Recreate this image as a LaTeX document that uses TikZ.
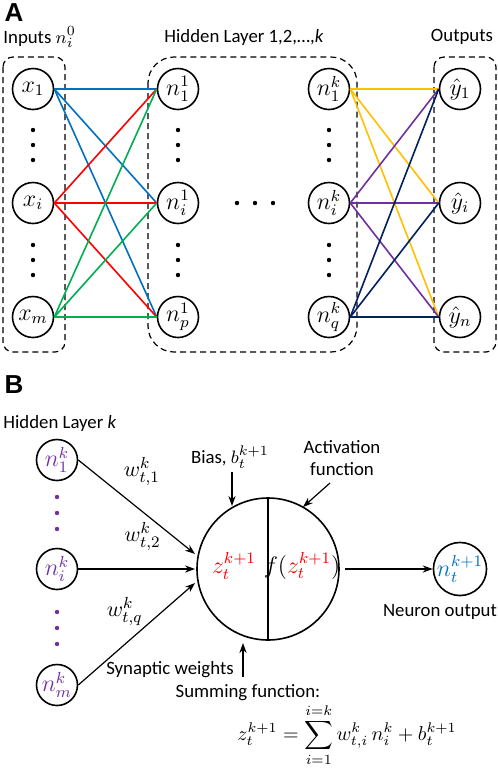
\documentclass[tikz,border=0pt]{standalone}
\usepackage{amsmath}
\usepackage{fontspec}
\setmainfont{Carlito}
\newfontfamily\panelfont{Liberation Sans}
\usepackage{tikz}
\usetikzlibrary{positioning, arrows.meta}

\definecolor{inblue}{HTML}{0070C0}
\definecolor{inred}{HTML}{FF0000}
\definecolor{ingreen}{HTML}{00B050}
\definecolor{outgold}{HTML}{FFC000}
\definecolor{outpurple}{HTML}{7030A0}
\definecolor{outnavy}{HTML}{002060}

\tikzset{
    >={Stealth[length=5pt,width=3.6pt]},       % arrow heads of panel B
    neuron/.style={circle, draw, line width=0.8pt, minimum size=20.5pt,
                   inner sep=0pt, font=\fontsize{12}{13}\selectfont},
    layerbox/.style={draw, line width=0.6pt, dash pattern=on 3pt off 2pt},
    link/.style={line width=0.8pt},          % the coloured lines of panel A
    arrowlink/.style={->, draw, line width=0.6pt},
    dot/.style={circle, fill, inner sep=0pt, minimum size=2.2pt},
    lbl/.style={font=\fontsize{9.4}{11.2}\selectfont, inner sep=1pt},
    wlbl/.style={font=\fontsize{11}{12}\selectfont, inner sep=1pt},
    panel/.style={font=\fontsize{13}{14}\panelfont\bfseries\selectfont, inner sep=0pt},
}

\begin{document}
\begin{tikzpicture}[x=0.5pt, y=-0.5pt]
\useasboundingbox (0,0) rectangle (498,768);

% ---------------- panel A ----------------
\node[panel] (pA) at (14,13) {A};

\node[lbl, anchor=west] (tin) at (1,37) {Inputs $n_i^0$};
\node[lbl] (thid) at (244,37) {Hidden Layer 1,2,…,\textit{k}};
\node[lbl] (tout) at (462,37) {Outputs};

% dashed boxes
\draw[layerbox, rounded corners=5pt] (3,57) rectangle (65,352);
\draw[layerbox, rounded corners=13pt] (148,57) rectangle (357,352);
\draw[layerbox, rounded corners=5pt] (434,57) rectangle (496,352);

% inputs
\node[neuron] (x1) at (33,89) {$x_1$};
\node[neuron] (xi) at (33,203) {$x_i$};
\node[neuron] (xm) at (33,317) {$x_m$};
% first hidden layer
\node[neuron] (n11) at (178,89) {$n_1^1$};
\node[neuron] (ni1) at (178,203) {$n_i^1$};
\node[neuron] (np1) at (178,317) {$n_p^1$};
% last hidden layer
\node[neuron] (n1k) at (329,89) {$n_1^k$};
\node[neuron] (nik) at (329,203) {$n_i^k$};
\node[neuron] (nqk) at (329,317) {$n_q^k$};
% outputs
\node[neuron] (y1) at (460,89) {$\hat{y}_1$};
\node[neuron] (yi) at (460,203) {$\hat{y}_i$};
\node[neuron] (yn) at (460,317) {$\hat{y}_n$};

% vertical dots
\foreach \cx in {33,178,329}
  \foreach \cy in {130,145,160,245,260,275}
    \node[dot] at (\cx,\cy) {};
% horizontal dots
\foreach \cx in {237,255,273}
  \node[dot] at (\cx,203) {};

\draw[link, inblue]
(x1.east) edge (n11.west)
(x1.east) edge (ni1.west)
(x1.east) edge (np1.west);
\draw[link, inred]
(xi.east) edge (n11.west)
(xi.east) edge (ni1.west)
(xi.east) edge (np1.west);
\draw[link, ingreen]
(xm.east) edge (n11.west)
(xm.east) edge (ni1.west)
(xm.east) edge (np1.west);

\draw[link, outgold]
(n1k.east) edge (y1.west)
(n1k.east) edge (yi.west)
(n1k.east) edge (yn.west);
\draw[link, outpurple]
(nik.east) edge (y1.west)
(nik.east) edge (yi.west)
(nik.east) edge (yn.west);
\draw[link, outnavy]
(nqk.east) edge (y1.west)
(nqk.east) edge (yi.west)
(nqk.east) edge (yn.west);

% ---------------- panel B ----------------
\node[panel] (pB) at (14,385) {B};
\node[lbl, anchor=west] (thk) at (1,423) {Hidden Layer \textit{k}};

\node[neuron, text=outpurple] (h1) at (57,460) {$n_1^k$};
\node[neuron, text=outpurple] (hi) at (57,569) {$n_i^k$};
\node[neuron, text=outpurple] (hm) at (57,685) {$n_m^k$};
\foreach \cy in {497,513,529,612,628,644}
  \node[dot, outpurple] at (57,\cy) {};

% the neuron
\node[circle, draw, line width=0.8pt, minimum size=71pt, inner sep=0pt] (core) at (268,569) {};
\draw[line width=0.8pt] (core.north) -- (core.south);
\node[font=\fontsize{11.5}{13}\selectfont, text=inred] (zsum) at (234,566) {$z_t^{k+1}$};
\node[font=\fontsize{11.5}{13}\selectfont, inner sep=1pt] (fact) at (302,566) {$f(\textcolor{inred}{z_t^{k+1}})$};

\node[neuron, text=inblue] (nout) at (460,569) {$n_t^{k+1}$};
\node[lbl] (tno) at (440,612) {Neuron output};

\coordinate (in1) at (195,554);
\coordinate (in2) at (195,569);
\coordinate (in3) at (195,583);
\coordinate (fout) at (345,569);
\path
(h1.east) edge[arrowlink] node[wlbl, above right, pos=0.3, xshift=4pt]{$w_{t,1}^k$} (in1)
(hi.east) edge[arrowlink] node[wlbl, above, pos=0.55, yshift=8pt]{$w_{t,2}^k$} (in2)
(hm.east) edge[arrowlink] node[wlbl, above, pos=0.5, xshift=-6pt, yshift=3pt]{$w_{t,q}^k$} (in3)
(fout) edge[arrowlink] (nout.west);

% annotations
\node[lbl] (tbias) at (230,457) {Bias, $b_t^{k+1}$};
\coordinate (bhead) at (232,506);
\draw[arrowlink] (232,472) -- (bhead);

\node[lbl, align=center] (tact) at (342,458) {Activation\\function};
\coordinate (ahead) at (303,507);
\draw[arrowlink] (330,483) -- (ahead);

\node[lbl] (tsyn) at (170,670) {Synaptic weights};
\coordinate (shead) at (243,643);
\draw[arrowlink] (243,677) -- (shead);
\node[lbl] (tsum) at (248,693) {Summing function:};

\node[font=\fontsize{10}{11}\selectfont] (eqn) at (347,735)
  {$\displaystyle z_t^{k+1} = \sum_{i=1}^{i=k} w_{t,i}^k\, n_i^k + b_t^{k+1}$};

\end{tikzpicture}
\end{document}
